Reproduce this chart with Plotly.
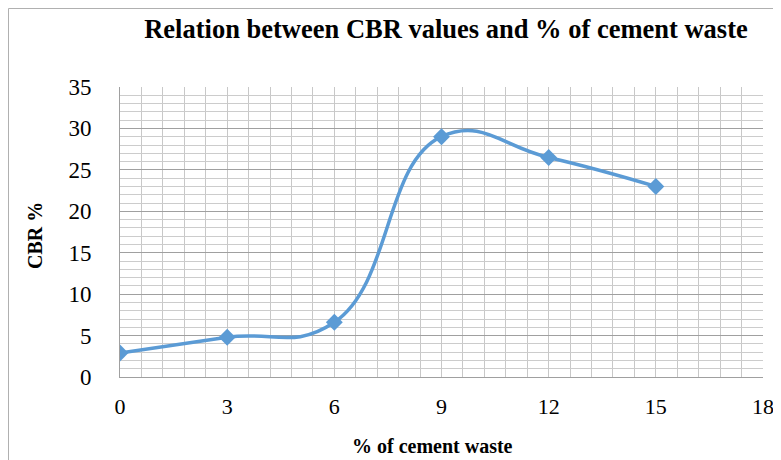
import plotly.graph_objects as go

# % of cement waste vs CBR values
cement_waste = [0, 3, 6, 9, 12, 15]
cbr_values = [2.9, 4.8, 6.6, 29.0, 26.5, 23.0]

x_ticks = [0, 3, 6, 9, 12, 15, 18]
y_ticks = [0, 5, 10, 15, 20, 25, 30, 35]

font_family = "Liberation Serif"

# page body has an 8px margin, so the figure is drawn a little smaller
W, H = 773, 452
L, R, T, B = 112, 18, 79, 83
PW, PH = W - L - R, H - T - B

fig = go.Figure()

fig.add_trace(go.Scatter(
    x=cement_waste,
    y=cbr_values,
    mode='lines+markers',
    line=dict(color='#5B9BD5', width=3.5, shape='spline', smoothing=1.3),
    marker=dict(symbol='diamond', size=13, color='#5B9BD5'),
    showlegend=False,
))

fig.update_layout(
    width=W, height=H,
    margin=dict(l=L, r=R, t=T, b=B, autoexpand=False),
    paper_bgcolor='white',
    plot_bgcolor='white',
    font=dict(family=font_family, color='black'),
    title=dict(
        text="<b>Relation between CBR values and % of cement waste</b>",
        x=438 / W, xanchor='center', y=1 - 21 / H, yanchor='middle',
        font=dict(size=26.5, family=font_family, color='black'),
        automargin=False,
    ),
)

fig.update_xaxes(
    range=[0, 18],
    tickvals=x_ticks,
    tickfont=dict(size=22, family=font_family),
    ticklabelstandoff=10,
    automargin=False,
    showgrid=True, gridcolor='#c8c8c8', gridwidth=1,
    minor=dict(dtick=0.6, tick0=0, showgrid=True, gridcolor='#c8c8c8', gridwidth=1),
    showline=True, linecolor='#a0a0a0', linewidth=1,
    zeroline=False,
)

fig.update_yaxes(
    range=[0, 35],
    tickvals=y_ticks,
    tickfont=dict(size=23, family=font_family),
    ticklabelstandoff=23,
    automargin=False,
    showgrid=True, gridcolor='#a0a0a0', gridwidth=1,
    minor=dict(dtick=1, tick0=0, showgrid=True, gridcolor='#cccccc', gridwidth=1),
    showline=True, linecolor='#a0a0a0', linewidth=1,
    zeroline=False,
)

# axis titles
fig.add_annotation(
    text="<b>% of cement waste</b>", xref='paper', yref='paper',
    x=(432 - 120) / PW, y=-(446 - 377) / PH, xanchor='center', yanchor='middle',
    showarrow=False, font=dict(size=20, family=font_family, color='black'),
)
fig.add_annotation(
    text="<b>CBR %</b>", xref='paper', yref='paper',
    x=-(120 - 35) / PW, y=(377 - 236) / PH, xanchor='center', yanchor='middle',
    textangle=-90, showarrow=False, font=dict(size=20, family=font_family, color='black'),
)

# outer chart border
fig.add_shape(
    type='rect', xref='paper', yref='paper',
    x0=-(L - 0.5) / PW, x1=(PW + R + 10) / PW,
    y0=-(B + 10) / PH, y1=1 + (T - 0.5) / PH,
    line=dict(color='#b0b0b0', width=1), fillcolor='rgba(0,0,0,0)',
    layer='below',
)

fig.write_html("out.html")
